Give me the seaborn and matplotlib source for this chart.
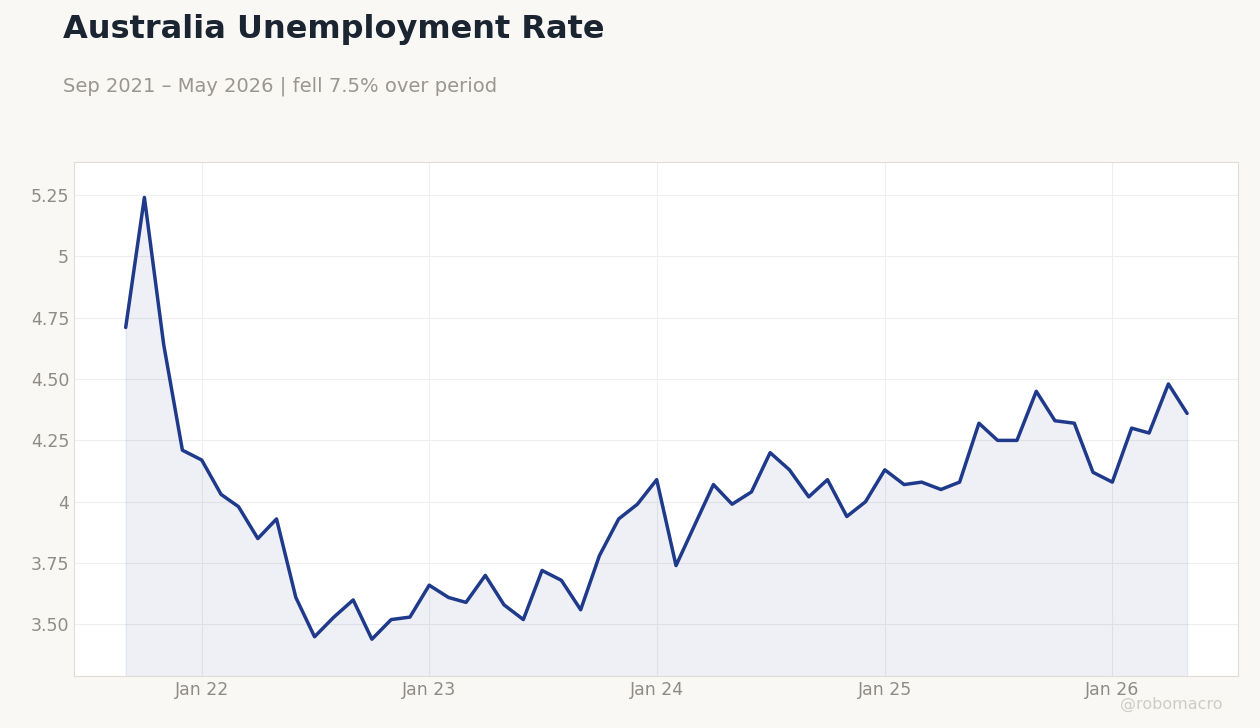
import pandas as pd
import matplotlib.pyplot as plt
import matplotlib.dates as mdates
import seaborn as sns

sns.set_style("white")
plt.rcParams['font.family'] = ['DejaVu Sans']

months = pd.date_range('2021-09-01', '2026-05-01', freq='MS')
rate = [4.71, 5.24, 4.64, 4.21, 4.17, 4.03, 3.98, 3.85, 3.93, 3.61,
        3.45, 3.53, 3.60, 3.44, 3.52, 3.53, 3.66, 3.61, 3.59, 3.70,
        3.58, 3.52, 3.72, 3.68, 3.56, 3.78, 3.93, 3.99, 4.09, 3.74,
        3.90, 4.07, 3.99, 4.04, 4.20, 4.13, 4.02, 4.09, 3.94, 4.00,
        4.13, 4.07, 4.08, 4.05, 4.08, 4.32, 4.25, 4.25, 4.45, 4.33,
        4.32, 4.12, 4.08, 4.30, 4.28, 4.48, 4.36]
ytick_vals = [3.5, 3.75, 4.0, 4.25, 4.5, 4.75, 5.0, 5.25]
ytick_labels = ['3.50', '3.75', '4', '4.25', '4.50', '4.75', '5', '5.25']

df = pd.DataFrame({'date': months, 'rate': rate})
line_color = '#1f3a8a'

fig = plt.figure(figsize=(12.6, 7.28), dpi=100, facecolor='#f9f8f5')
ax = fig.add_axes([0.0587, 0.0714, 0.924, 0.706])
ax.set_facecolor('white')

sns.lineplot(data=df, x='date', y='rate', ax=ax, color=line_color, linewidth=2.5)
ax.fill_between(df['date'], df['rate'], 3.0, color=line_color, alpha=0.075)

ax.set_ylim(3.29, 5.384)
ax.set_xlim(pd.Timestamp('2021-06-10'), pd.Timestamp('2026-07-22'))
ax.set_yticks(ytick_vals)
ax.set_yticklabels(ytick_labels)
ax.xaxis.set_major_locator(mdates.YearLocator())
ax.xaxis.set_major_formatter(mdates.DateFormatter('Jan %y'))
ax.tick_params(colors='#8f8c87', labelsize=12.5, length=0)
ax.set_xlabel('')
ax.set_ylabel('')
ax.grid(True, color='#eeeeee', linewidth=0.8)
for s in ax.spines.values():
    s.set_color('#e0ddd6')

fig.text(0.05, 0.96, 'Australia Unemployment Rate', fontsize=23, fontweight='bold',
         color='#1b2431', va='center')
fig.text(0.05, 0.882, 'Sep 2021 – May 2026 | fell 7.5% over period', fontsize=14,
         color='#9a9690', va='center')
fig.text(0.97, 0.032, '@robomacro', fontsize=11.5, color='#cfccc6', ha='right', va='center')

fig.savefig('out.png', dpi=100, facecolor=fig.get_facecolor())
